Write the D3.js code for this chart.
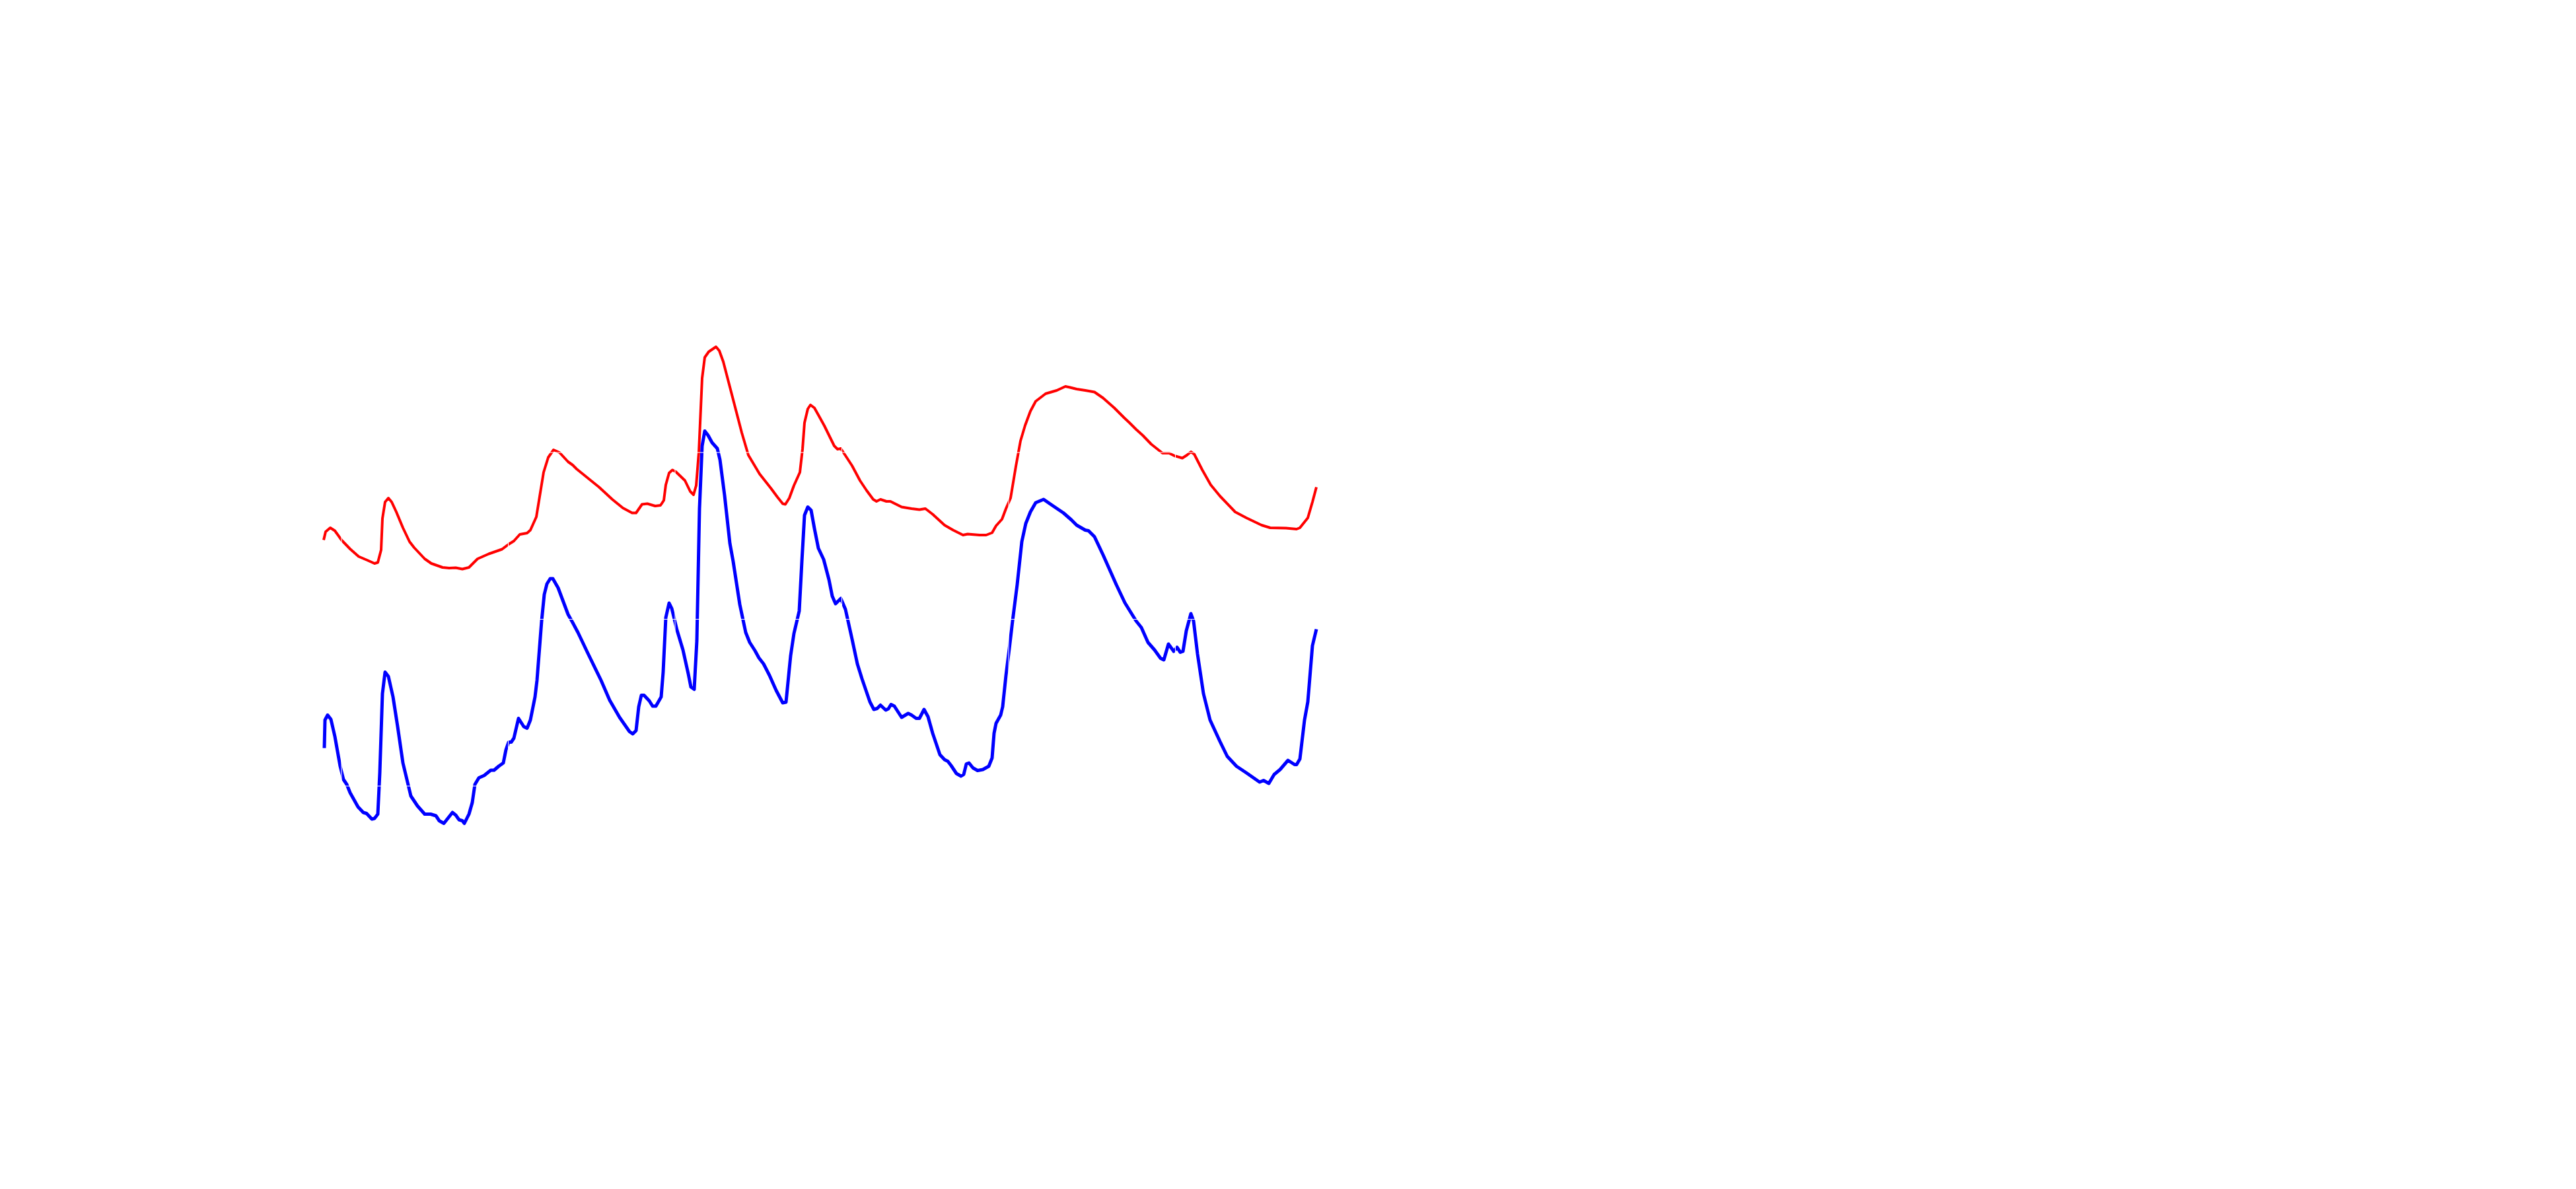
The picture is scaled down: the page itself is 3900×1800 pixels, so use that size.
<!DOCTYPE html>
<html><head><meta charset="utf-8">
<script src="https://cdn.jsdelivr.net/npm/d3@7"></script>
<style>html,body{margin:0;padding:0;background:#fff;} svg{display:block;}</style>
</head><body>
<script>
// Series values: [x, value]
const redPoints = [[0,482.5],[3,495],[10,501],[17,496.5],[27,482.5],[40,469],[53,457.5],[67,451.5],[77,447],[82,448.5],[87,467.5],[89,515],[93,540],[98,546],[103,540],[110,525],[120,501],[130,480],[137,471],[153,454],[163,447],[180,441],[190,440],[200,440.5],[210,438.5],[220,441],[233,454],[250,461.5],[270,468.5],[280,476],[288,481],[297,491],[308,493],[313,497.5],[322,517.5],[333,585],[340,607.5],[348,619],[357,615],[370,601],[377,596],[383,590],[417,562.5],[437,544],[453,531],[467,523.5],[473,523.5],[482,536.5],[490,537.5],[502,534],[510,535],[515,542.5],[518,566],[523,584],[528,588.5],[533,586],[547,572.5],[555,556],[560,551],[564,565],[568,615],[573,727.5],[577,759],[583,767.5],[594,775],[599,769],[605,752.5],[620,695],[633,645],[643,611],[660,582.5],[677,561],[687,547.5],[695,537.5],[699,536.5],[705,546],[712,565],[721,585],[725,620],[728,660],[733,681],[737,687],[743,682.5],[750,670],[758,655.5],[773,625],[778,620],[783,621],[800,595],[812,572.5],[822,557.5],[832,544],[837,541],[843,544],[852,541],[858,541],[875,532.5],[890,530],[902,528.5],[911,530],[922,521.5],[940,505],[953,497.5],[968,490],[975,491.5],[993,490],[1003,490],[1012,493.5],[1018,504],[1027,514],[1033,530],[1040,546],[1048,594],[1055,632.5],[1062,656],[1070,677.5],[1078,692.5],[1093,704],[1110,709],[1123,715],[1130,713.5],[1140,711],[1153,709],[1167,706.5],[1180,697.5],[1197,682.5],[1212,667.5],[1220,660],[1230,650],[1240,641],[1253,627.5],[1270,614],[1280,614],[1288,610],[1300,606.5],[1307,611],[1313,616],[1318,612.5],[1330,589],[1343,566],[1357,549],[1380,525],[1397,516],[1420,505],[1433,501],[1457,500.5],[1473,499],[1478,501],[1490,516],[1497,540],[1503,562.5]];

const bluePoints = [[1,167.5],[2,210],[6,217.5],[11,211],[17,185],[25,140],[30,120],[35,112.5],[40,100],[52,78.5],[60,70],[65,68.5],[73,60],[77,61],[82,67.5],[85,130],[89,250],[93,282.5],[98,276],[105,245],[112,200],[120,145],[132,95],[142,80],[153,67.5],[162,67.5],[170,65],[175,57.5],[182,53.5],[195,70],[200,66],[205,59],[210,57.5],[213,53.5],[220,67.5],[225,85],[229,112.5],[235,122.5],[243,126],[253,134],[258,134],[265,140],[272,145],[276,165],[280,176.5],[284,176.5],[288,182.5],[295,212.5],[303,200],[308,197.5],[313,210],[320,245],[323,270],[330,360],[334,400],[338,416],[343,424],[347,424],[355,410],[370,370],[377,357.5],[385,342.5],[400,311],[420,270],[433,240],[448,214],[463,192.5],[468,189],[473,194],[477,230],[481,247.5],[485,247.5],[493,239],[498,231],[503,231],[511,245],[514,282.5],[518,365],[523,387],[527,379],[535,346],[544,316],[552,280],[556,260],[561,256.5],[565,330],[569,530],[573,625],[577,647.5],[582,641],[588,630],[596,621],[600,604],[607,550],[615,477.5],[620,450],[630,385],[639,342.5],[645,327.5],[653,315],[659,304],[666,295],[675,277.5],[685,255],[695,236],[700,237],[707,307.5],[712,341],[720,375],[724,450],[728,520],[733,532.5],[738,527.5],[743,500],[749,470],[757,453],[765,422.5],[770,397.5],[775,386],[783,394],[790,377.5],[800,332.5],[808,295],[815,272.5],[827,237.5],[833,226],[838,227.5],[843,232.5],[851,225],[855,227],[859,233.5],[864,231],[875,214],[885,220],[890,217.5],[897,212.5],[902,212.5],[909,226],[915,215],[922,190],[933,157.5],[940,150],[945,147.5],[950,141],[958,129],[965,125],[969,127.5],[973,143.5],[977,145],[983,137.5],[990,133.5],[998,135],[1007,140],[1012,152.5],[1015,190],[1018,205],[1025,217.5],[1028,230],[1033,277.5],[1038,317.5],[1043,360],[1050,415],[1057,480],[1063,507.5],[1070,525],[1078,539],[1090,544],[1103,535],[1120,523.5],[1132,513],[1140,505],[1153,497.5],[1158,496.5],[1167,487.5],[1180,460],[1200,415],[1213,387.5],[1230,360],[1238,350],[1248,327.5],[1258,316],[1267,303.5],[1272,301],[1279,325],[1287,314],[1292,320],[1297,312.5],[1301,314],[1306,345],[1313,371],[1317,360],[1323,310],[1332,250],[1342,210],[1357,177.5],[1368,155],[1382,140],[1397,130],[1417,116],[1423,118.5],[1431,114],[1439,127.5],[1448,135],[1460,149],[1470,142.5],[1473,142.5],[1478,151],[1485,210],[1490,237.5],[1497,322.5],[1503,347.5]];

// White grid positions (only visible where they cross the lines)
const xGridValues = [27, 279.5, 532, 784.5, 1037, 1289.5];
const yGridValues = [110, 362.5, 615, 867.5];

const W = 3900, H = 1800;
const svg = d3.select("body").append("svg").attr("width", W).attr("height", H);
svg.append("rect").attr("width", W).attr("height", H).attr("fill", "#ffffff");

const x = d3.scaleLinear().domain([0, 1505]).range([490, 1995]);
const y = d3.scaleLinear().domain([0, 800]).range([1300, 500]);
const line = d3.line().x(d => x(d[0])).y(d => y(d[1]));

svg.append("path").datum(redPoints)
  .attr("d", line).attr("fill", "none")
  .attr("stroke", "#ff0000").attr("stroke-width", 4)
  .attr("stroke-linejoin", "round").attr("stroke-linecap", "butt");

svg.append("path").datum(bluePoints)
  .attr("d", line).attr("fill", "none")
  .attr("stroke", "#0000ff").attr("stroke-width", 5)
  .attr("stroke-linejoin", "round").attr("stroke-linecap", "butt");

const grid = svg.append("g").attr("stroke", "#ffffff").attr("stroke-width", 1);
grid.selectAll("line.v").data(xGridValues).join("line").attr("class", "v")
  .attr("x1", d => x(d)).attr("x2", d => x(d))
  .attr("y1", y(900)).attr("y2", y(-50));
grid.selectAll("line.h").data(yGridValues).join("line").attr("class", "h")
  .attr("x1", x(-20)).attr("x2", x(1520))
  .attr("y1", d => y(d)).attr("y2", d => y(d));
</script>
</body></html>
